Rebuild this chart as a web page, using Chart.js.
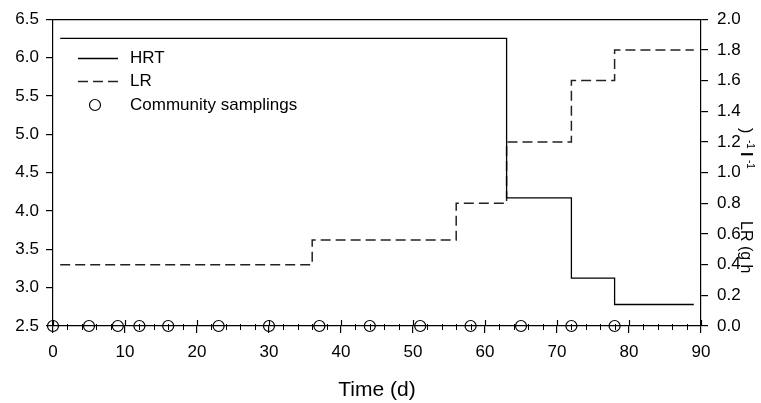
<!DOCTYPE html>
<html>
<head>
<meta charset="utf-8">
<script src="https://cdn.jsdelivr.net/npm/chart.js@4.4.1/dist/chart.umd.min.js"></script>
<style>
  html, body { margin: 0; padding: 0; background: #fff; }
  #wrap { width: 761px; height: 403px; }
</style>
</head>
<body>
<div id="wrap"><canvas id="c" width="761" height="403"></canvas></div>
<script>
// ---- data ----
const hrtDays   = [1, 63, 72, 78, 89];
const hrtValues = [6.25, 4.17, 3.125, 2.78, 2.78];           // HRT (d), left axis
const lrDays    = [1, 36, 56, 63, 72, 78, 89];
const lrValues  = [0.4, 0.56, 0.8, 1.2, 1.6, 1.8, 1.8];       // LR, right axis
const samplingDays   = [0, 5, 9, 12, 16, 23, 30, 37, 44, 51, 58, 65, 72, 78];
const samplingValues = [0, 0, 0, 0, 0, 0, 0, 0, 0, 0, 0, 0, 0, 0];
const seriesNames = ['HRT', 'LR', 'Community samplings'];
const xTitle = 'Time (d)';
const rightTitleMain = 'LR (g h';

const FONT = '"Liberation Sans", Arial, sans-serif';

const toXY = (xs, ys) => xs.map((x, i) => ({ x: x, y: ys[i] }));

const extras = {
  id: 'extras',
  afterDraw(chart) {
    const ctx = chart.ctx;
    const a = chart.chartArea;
    const xs = chart.scales.x;
    ctx.save();
    ctx.strokeStyle = '#000';
    ctx.lineWidth = 1.2;
    // top frame line
    ctx.beginPath();
    ctx.moveTo(a.left, a.top + 0.5);
    ctx.lineTo(a.right, a.top + 0.5);
    ctx.stroke();
    // x major ticks inward part and minor ticks
    for (let v = 0; v <= 90; v += 2) {
      const px = Math.round(xs.getPixelForValue(v)) + 0.5;
      ctx.beginPath();
      if (v % 10 === 0) {
        ctx.lineWidth = 1.2;
        ctx.moveTo(px, a.bottom - 6);
        ctx.lineTo(px, a.bottom);
      } else {
        ctx.lineWidth = 1;
        ctx.moveTo(px, a.bottom - 2);
        ctx.lineTo(px, a.bottom + 4);
      }
      ctx.stroke();
    }
    // legend
    const ds = chart.data.datasets;
    ctx.font = '17px ' + FONT;
    ctx.fillStyle = '#000';
    ctx.textBaseline = 'middle';
    ctx.textAlign = 'left';
    const rows = [58, 81, 105];
    // HRT
    ctx.strokeStyle = ds[0].borderColor;
    ctx.lineWidth = ds[0].borderWidth;
    ctx.beginPath(); ctx.moveTo(78, rows[0] + 0.5); ctx.lineTo(118, rows[0] + 0.5); ctx.stroke();
    ctx.fillText(ds[0].label, 130, rows[0]);
    // LR
    ctx.strokeStyle = ds[1].borderColor;
    ctx.lineWidth = ds[1].borderWidth;
    ctx.setLineDash(ds[1].borderDash);
    ctx.beginPath(); ctx.moveTo(78, rows[1] + 0.5); ctx.lineTo(118, rows[1] + 0.5); ctx.stroke();
    ctx.setLineDash([]);
    ctx.fillText(ds[1].label, 130, rows[1]);
    // samplings
    ctx.strokeStyle = ds[2].borderColor;
    ctx.lineWidth = ds[2].borderWidth;
    ctx.beginPath(); ctx.arc(95, rows[2], ds[2].pointRadius, 0, Math.PI * 2); ctx.stroke();
    ctx.fillText(ds[2].label, 130, rows[2]);
    // x title
    ctx.font = '21px ' + FONT;
    ctx.textAlign = 'center';
    ctx.textBaseline = 'alphabetic';
    ctx.fillText(xTitle, (a.left + a.right) / 2, 396);
    // right title (rotated clockwise)
    ctx.save();
    ctx.translate(741, 221);
    ctx.rotate(Math.PI / 2);
    ctx.textAlign = 'left';
    ctx.font = '16px ' + FONT;
    ctx.fillText(rightTitleMain, 0, 0);
    ctx.restore();
    // displaced superscript part: ")", "-1", "l", "-1"
    ctx.save();
    ctx.translate(741, 128);
    ctx.rotate(Math.PI / 2);
    ctx.textAlign = 'left';
    ctx.font = '16px ' + FONT;
    ctx.fillText(')', 0, 0);
    ctx.font = '10px ' + FONT;
    ctx.fillText('-1', 12, -6);
    ctx.font = 'bold 16px ' + FONT;
    ctx.fillText('l', 24, 0);
    ctx.font = '10px ' + FONT;
    ctx.fillText('-1', 32, -6);
    ctx.restore();
    ctx.restore();
  }
};

new Chart(document.getElementById('c'), {
  type: 'line',
  data: {
    datasets: [
      {
        label: seriesNames[0],
        data: toXY(hrtDays, hrtValues),
        yAxisID: 'y',
        stepped: 'before',
        borderColor: '#000',
        borderWidth: 1.3,
        pointRadius: 0,
        fill: false
      },
      {
        label: seriesNames[1],
        data: toXY(lrDays, lrValues),
        yAxisID: 'y2',
        stepped: 'before',
        borderColor: '#222',
        borderWidth: 1.5,
        borderDash: [10, 5],
        pointRadius: 0,
        fill: false
      },
      {
        label: seriesNames[2],
        type: 'scatter',
        data: toXY(samplingDays, samplingValues),
        yAxisID: 'y2',
        showLine: false,
        pointStyle: 'circle',
        pointRadius: 5.5,
        pointBorderWidth: 1.2,
        borderWidth: 1.2,
        borderColor: '#000',
        pointBorderColor: '#000',
        pointBackgroundColor: 'rgba(0,0,0,0)',
        backgroundColor: 'rgba(0,0,0,0)',
        clip: false
      }
    ]
  },
  options: {
    responsive: false,
    animation: false,
    devicePixelRatio: 1,
    layout: { padding: { top: 18, left: 0, right: 0, bottom: 0 } },
    plugins: { legend: { display: false }, tooltip: { enabled: false } },
    scales: {
      x: {
        type: 'linear', position: 'bottom', min: 0, max: 90,
        afterFit: (s) => { s.height = 77; },
        border: { display: true, color: '#000', width: 1.2 },
        grid: { display: true, drawOnChartArea: false, drawTicks: true, tickLength: 7, color: '#000', lineWidth: 1.2 },
        ticks: { stepSize: 10, color: '#000', padding: 9, font: { family: FONT, size: 17 }, maxRotation: 0, autoSkip: false,
                 callback: (v) => String(v) }
      },
      y: {
        type: 'linear', position: 'left', min: 2.5, max: 6.5,
        afterFit: (s) => { s.width = 53; },
        border: { display: true, color: '#000', width: 1.2 },
        grid: { display: true, drawOnChartArea: false, drawTicks: true, tickLength: 7, color: '#000', lineWidth: 1.2 },
        ticks: { stepSize: 0.5, color: '#000', padding: 7, font: { family: FONT, size: 17 },
                 callback: (v) => Number(v).toFixed(1) }
      },
      y2: {
        type: 'linear', position: 'right', min: 0, max: 2,
        afterFit: (s) => { s.width = 60; },
        border: { display: true, color: '#000', width: 1.2 },
        grid: { display: true, drawOnChartArea: false, drawTicks: true, tickLength: 7, color: '#000', lineWidth: 1.2 },
        ticks: { stepSize: 0.2, color: '#000', padding: 9, font: { family: FONT, size: 17 },
                 callback: (v) => Number(v).toFixed(1) }
      }
    }
  },
  plugins: [extras]
});
</script>
</body>
</html>
